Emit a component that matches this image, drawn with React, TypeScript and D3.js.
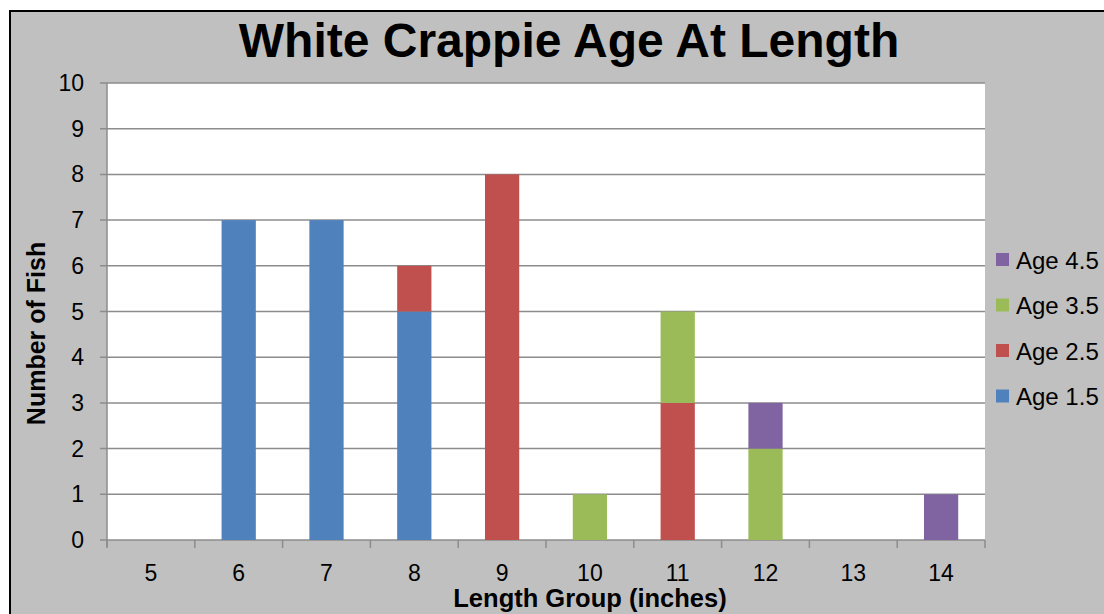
import { scaleBand, scaleLinear, stack } from "d3";

const lengths = ["5", "6", "7", "8", "9", "10", "11", "12", "13", "14"];
const age15 = [0, 7, 7, 5, 0, 0, 0, 0, 0, 0];
const age25 = [0, 0, 0, 1, 8, 0, 3, 0, 0, 0];
const age35 = [0, 0, 0, 0, 0, 1, 2, 2, 0, 0];
const age45 = [0, 0, 0, 0, 0, 0, 0, 1, 0, 1];
const seriesNames = ["Age 1.5", "Age 2.5", "Age 3.5", "Age 4.5"];
const colors = ["#4F81BD", "#C0504D", "#9BBB59", "#8064A2"];
const yTicks = [0, 1, 2, 3, 4, 5, 6, 7, 8, 9, 10];

const W = 1104;
const H = 614;
const plot = { left: 107, right: 985, top: 83, bottom: 540 };
const font = "'Liberation Sans', Arial, sans-serif";

const App = () => {
  const rows = lengths.map((l, i) => ({
    len: l,
    "Age 1.5": age15[i],
    "Age 2.5": age25[i],
    "Age 3.5": age35[i],
    "Age 4.5": age45[i],
  }));
  const stacked = stack<any>().keys(seriesNames)(rows);

  const x = scaleBand<string>().domain(lengths).range([plot.left, plot.right]).paddingInner(0);
  const y = scaleLinear().domain([0, 10]).range([plot.bottom, plot.top]);
  const barW = x.bandwidth() * 0.39;

  // legend shown top-down in reverse order, like Excel
  const legendItems = seriesNames.map((n, i) => ({ n, c: colors[i] })).reverse();

  return (
    <svg
      width={W}
      height={H}
      style={{ position: "absolute", left: 0, top: 0, background: "#fff" }}
      fontFamily={font}
    >
      <rect x={10} y={11} width={W + 10} height={H + 10} fill="#C0C0C0" stroke="#000" strokeWidth={2} />
      <rect x={plot.left} y={plot.top} width={plot.right - plot.left} height={plot.bottom - plot.top} fill="#fff" />

      {yTicks.map((t) => (
        <g key={t}>
          <line x1={plot.left - 7} x2={plot.right} y1={y(t)} y2={y(t)} stroke="#8c8c8c" strokeWidth={1.5} />
          <text x={84} y={y(t)} dy="0.35em" textAnchor="end" fontSize={23}>
            {t}
          </text>
        </g>
      ))}
      <line x1={plot.left} x2={plot.left} y1={plot.top} y2={plot.bottom + 7} stroke="#8c8c8c" strokeWidth={1.5} />
      {lengths.map((l) => (
        <line key={l} x1={x(l)!} x2={x(l)!} y1={plot.bottom} y2={plot.bottom + 8} stroke="#8c8c8c" strokeWidth={1.5} />
      ))}
      <line x1={plot.right} x2={plot.right} y1={plot.bottom} y2={plot.bottom + 8} stroke="#8c8c8c" strokeWidth={1.5} />
      {lengths.map((l) => (
        <text key={l} x={x(l)! + x.bandwidth() / 2} y={581} textAnchor="middle" fontSize={23}>
          {l}
        </text>
      ))}

      {stacked.map((s, si) => (
        <g key={s.key} fill={colors[si]}>
          {s.map((d, i) =>
            d[1] - d[0] > 0 ? (
              <rect
                key={i}
                x={x(lengths[i])! + (x.bandwidth() - barW) / 2}
                y={y(d[1])}
                width={barW}
                height={y(d[0]) - y(d[1])}
              />
            ) : null
          )}
        </g>
      ))}

      <text x={569} y={57} textAnchor="middle" fontSize={48} fontWeight="bold">
        White Crappie Age At Length
      </text>
      <text x={590} y={607} textAnchor="middle" fontSize={25.5} fontWeight="bold">
        Length Group (inches)
      </text>
      <text
        transform={`translate(45,${(plot.top + plot.bottom) / 2 + 22}) rotate(-90)`}
        textAnchor="middle"
        fontSize={25}
        fontWeight="bold"
      >
        Number of Fish
      </text>

      {legendItems.map((it, i) => (
        <g key={it.n} transform={`translate(996,${253 + i * 45.5})`}>
          <rect width={13} height={13} fill={it.c} />
          <text x={20} y={7} dy="0.36em" fontSize={24}>
            {it.n}
          </text>
        </g>
      ))}
    </svg>
  );
};

export default App;
